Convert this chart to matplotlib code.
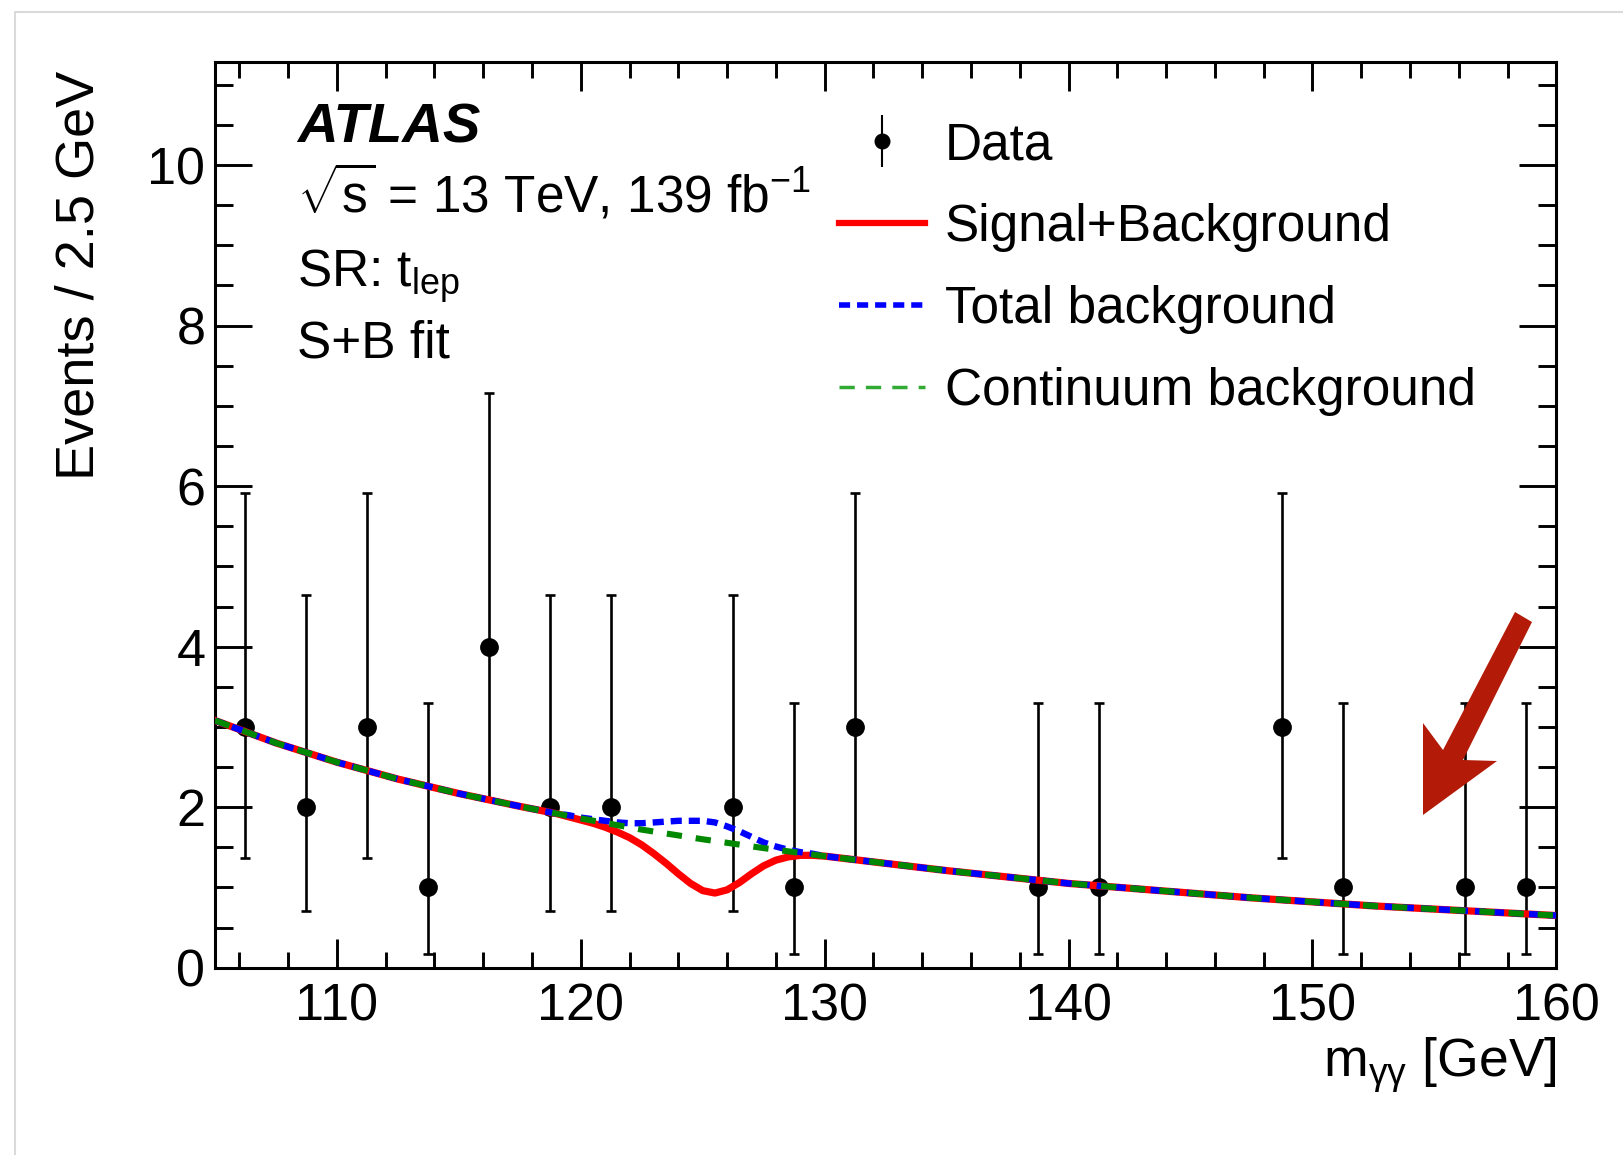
import numpy as np
import matplotlib
matplotlib.use("Agg")
import matplotlib.pyplot as plt
from matplotlib.patches import Polygon, Rectangle
from matplotlib.ticker import MultipleLocator

plt.rcParams['font.family'] = ['Liberation Sans', 'DejaVu Sans']
plt.rcParams['mathtext.fontset'] = 'custom'
plt.rcParams['mathtext.rm'] = 'Liberation Sans'
plt.rcParams['mathtext.it'] = 'Liberation Sans:italic'
plt.rcParams['mathtext.bf'] = 'Liberation Sans:bold'
plt.rcParams['lines.scale_dashes'] = False

# observed events per 2.5 GeV bin (empty bins are not drawn)
data_mass = [106.25, 108.75, 111.25, 113.75, 116.25, 118.75, 121.25, 126.25,
             128.75, 131.25, 138.75, 141.25, 148.75, 151.25, 156.25, 158.75]
data_events = [3, 2, 3, 1, 4, 2, 2, 2, 1, 3, 1, 1, 3, 1, 1, 1]
# Poisson error bar edges
data_lo = [1.37, 0.71, 1.37, 0.17, 2.09, 0.71, 0.71, 0.71,
           0.17, 1.37, 0.17, 0.17, 1.37, 0.17, 0.17, 0.17]
data_hi = [5.92, 4.64, 5.92, 3.30, 7.16, 4.64, 4.64, 4.64,
           3.30, 5.92, 3.30, 3.30, 5.92, 3.30, 3.30, 3.30]

# continuum background fit
cont_mass = [105.0, 107.5, 110.0, 112.5, 115.0, 117.5, 120.0, 122.5, 125.0, 127.5,
             130.0, 132.5, 135.0, 137.5, 140.0, 142.5, 145.0, 147.5, 150.0, 152.5,
             155.0, 157.5, 160.0]
cont_events = [3.08, 2.80, 2.56, 2.35, 2.17, 2.01, 1.86, 1.72, 1.60, 1.49,
               1.39, 1.30, 1.21, 1.13, 1.05, 0.99, 0.93, 0.87, 0.82, 0.77,
               0.73, 0.69, 0.65]

# signal region, where the curves separate
peak_mass = [119.0, 119.5, 120.0, 120.5, 121.0, 121.5, 122.0, 122.5, 123.0, 123.5,
             124.0, 124.5, 125.0, 125.5, 126.0, 126.5, 127.0, 127.5, 128.0, 128.5,
             129.0, 129.5, 130.0]
splusb_peak = [1.92, 1.88, 1.84, 1.80, 1.75, 1.69, 1.62, 1.53, 1.42, 1.30,
               1.17, 1.05, 0.96, 0.93, 0.97, 1.06, 1.17, 1.27, 1.34, 1.38,
               1.40, 1.40, 1.39]
totbkg_peak = [1.92, 1.90, 1.87, 1.85, 1.83, 1.81, 1.80, 1.80, 1.81, 1.82,
               1.83, 1.83, 1.83, 1.81, 1.76, 1.70, 1.63, 1.56, 1.51, 1.47,
               1.44, 1.42, 1.39]

cm = np.array(cont_mass)
ce = np.array(cont_events)
side_lo = cm < peak_mass[0]
side_hi = cm > peak_mass[-1]
sb_x = np.concatenate([cm[side_lo], peak_mass, cm[side_hi]])
sb_y = np.concatenate([ce[side_lo], splusb_peak, ce[side_hi]])
tb_x = np.concatenate([cm[side_lo], peak_mass, cm[side_hi]])
tb_y = np.concatenate([ce[side_lo], totbkg_peak, ce[side_hi]])

fig = plt.figure(figsize=(16.24, 11.55), dpi=100)
fig.patch.set_facecolor('white')

# screenshot card edge
fig.add_artist(Rectangle((15 / 1624, -0.2), 1.5, 1.2 - 12 / 1155,
                         transform=fig.transFigure, facecolor='white',
                         edgecolor='#dadada', lw=1.5, zorder=-5))

ax = fig.add_axes([0.13239, 0.16216, 0.82593, 0.78390])

ev = np.array(data_events)
yerr = [ev - np.array(data_lo), np.array(data_hi) - ev]
ax.errorbar(data_mass, data_events, yerr=yerr, fmt='o', color='black',
            ms=12.5, elinewidth=1.9, capsize=3.6, capthick=1.9, zorder=2)

l_red, = ax.plot(sb_x, sb_y, color='#ff0000', lw=5.2, zorder=3)
l_blue, = ax.plot(tb_x, tb_y, color='#0000ff', lw=4.6, dashes=(8, 5), zorder=4)
l_green, = ax.plot(cm, ce, color='#008800', lw=4.4, dashes=(11, 10), zorder=5)
l_red_leg, = ax.plot([], [], color='#ff0000', lw=4.5)
l_blue_leg, = ax.plot([], [], color='#0000ff', lw=4.0, dashes=(8, 5))
l_green_leg, = ax.plot([], [], color='#33aa33', lw=2.5, dashes=(11, 8))

data_proxy = ax.errorbar([np.nan], [np.nan], yerr=1, fmt='o', color='black',
                         ms=10.5, elinewidth=1.5, capsize=0)

ax.set_xlim(105, 160)
ax.set_ylim(0, 11.28)
ax.xaxis.set_major_locator(MultipleLocator(10))
ax.xaxis.set_minor_locator(MultipleLocator(2))
ax.yaxis.set_major_locator(MultipleLocator(2))
ax.yaxis.set_minor_locator(MultipleLocator(0.5))
ax.tick_params(which='both', direction='in', top=True, right=True, width=2.1,
               labelsize=37.5)
ax.tick_params(axis='x', which='major', length=21, pad=11)
ax.tick_params(axis='x', which='minor', length=11.5)
ax.tick_params(axis='y', which='major', length=26.6, pad=7)
ax.tick_params(axis='y', which='minor', length=13)
for s in ax.spines.values():
    s.set_linewidth(2.2)

ax.set_ylabel('Events / 2.5 GeV', fontsize=39, loc='top')
ax.yaxis.set_label_coords(-0.0824, 0.991)
ax.set_xlabel(r'm$_{\mathrm{γγ}}$ [GeV]', fontsize=38.5, loc='right')
ax.xaxis.label.set_verticalalignment('baseline')
ax.xaxis.set_label_coords(1.0, -0.1207)

ax.text(0.0611, 0.9112, 'ATLAS', transform=ax.transAxes, fontsize=40.5,
        fontweight='bold', fontstyle='italic', va='baseline')
ax.text(0.0611, 0.8336, r'$\sqrt{\mathrm{s}}$ = 13 TeV, 139 fb$^{-1}$',
        transform=ax.transAxes, fontsize=37, va='baseline')
ax.text(0.0611, 0.7518, r'SR: t$_{\mathrm{lep}}$', transform=ax.transAxes,
        fontsize=37, va='baseline')
ax.text(0.0611, 0.6745, 'S+B fit', transform=ax.transAxes, fontsize=37,
        va='baseline')

ax.legend([data_proxy, l_red_leg, l_blue_leg, l_green_leg],
          ['Data', 'Signal+Background', 'Total background', 'Continuum background'],
          loc='upper left', bbox_to_anchor=(0.4652, 0.935), frameon=False,
          fontsize=37, handlelength=1.67, handletextpad=0.39, labelspacing=0.64,
          borderpad=0, borderaxespad=0)

# red annotation arrow (pixel outline of the original)
arrow_px = [(1515, 612), (1443, 750), (1423, 723), (1423, 815),
            (1497, 761), (1463, 760), (1532, 622)]
fig.add_artist(Polygon([(x / 1624, 1 - y / 1155) for x, y in arrow_px],
                       closed=True, transform=fig.transFigure,
                       facecolor='#b31b08', edgecolor='none', zorder=10))

fig.savefig('out.png', dpi=100)
